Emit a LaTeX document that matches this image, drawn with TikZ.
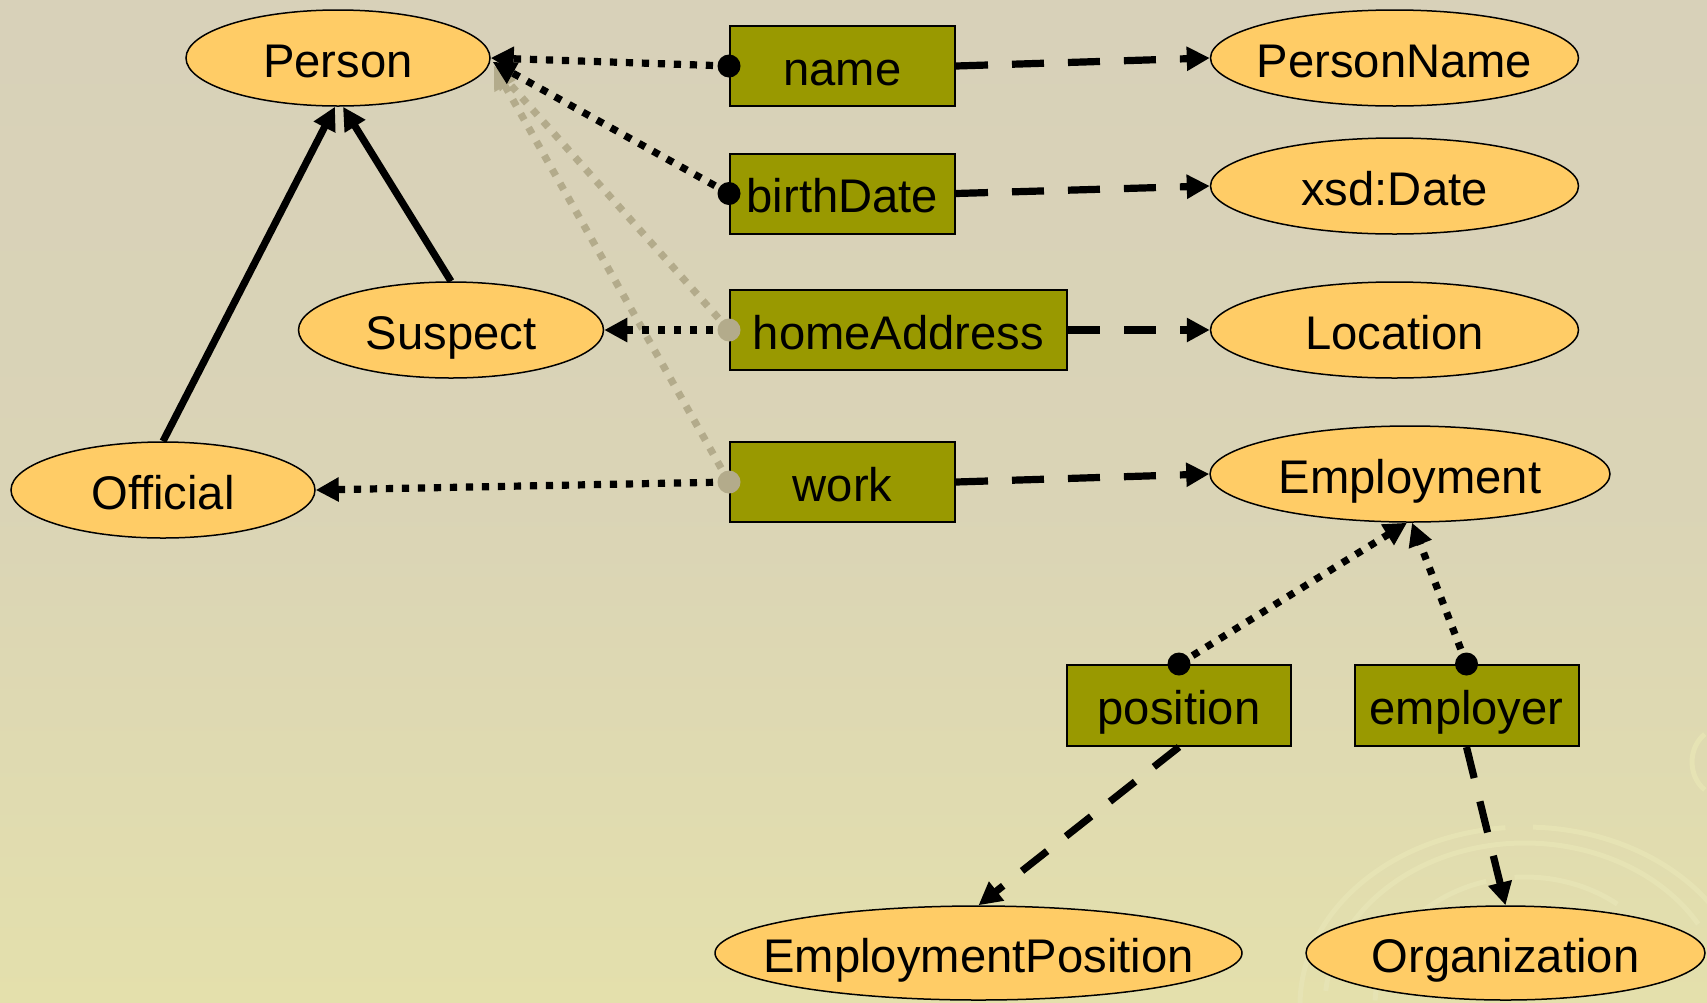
\documentclass[tikz,border=0pt]{standalone}
\usepackage{fontspec}
\setmainfont{Liberation Sans}
\usetikzlibrary{arrows.meta,calc,shapes.geometric}
\definecolor{bgtop}{HTML}{D8D1B9}
\definecolor{bgmid}{HTML}{DAD4B6}
\definecolor{bgbot}{HTML}{E4E0AC}
\definecolor{ellfill}{HTML}{FFCC66}
\definecolor{boxfill}{HTML}{999900}
\definecolor{ghost}{HTML}{B3AB8B}
\definecolor{swirl}{HTML}{E6E3B4}
\newcommand\zw[1]{\makebox[0pt]{#1}}
\begin{document}
\begin{tikzpicture}[x=0.5pt,y=-0.5pt,
  lbl/.style={font=\fontsize{23.6}{28}\selectfont, text height=19pt, text depth=0pt, inner sep=0pt},
  cls/.style={lbl, ellipse, draw=black, line width=0.75pt, fill=ellfill},
  prop/.style={lbl, rectangle, draw=black, line width=1pt, fill=boxfill, minimum height=40pt},
  tip/.style={-{Triangle[length=11.5pt,width=11.5pt]}},
  dotline/.style={tip, line width=3.6pt, dash pattern=on 3.6pt off 4.4pt},
  dashline/.style={tip, line width=3.6pt, dash pattern=on 16pt off 12pt},
  solidline/.style={tip, line width=3.6pt},
  sw/.style={draw=swirl, line width=2.5pt}
]
% background
\shade[top color=bgtop, bottom color=bgbot, middle color=bgmid] (0,0) rectangle (1707,1002);
\useasboundingbox (0,0) rectangle (1707,1002);
% faint swirls (y axis points down, so upper arcs use angles 180..360)
\coordinate (swc) at (1525,1005);
\draw[sw] ($(swc)+(180:225 and 178)$) arc[start angle=180, end angle=265, x radius=225, y radius=178];
\draw[sw] ($(swc)+(272:225 and 178)$) arc[start angle=272, end angle=360, x radius=225, y radius=178];
\draw[sw] ($(swc)+(185:200 and 162)$) arc[start angle=185, end angle=330, x radius=200, y radius=162];
\draw[sw] ($(swc)+(182:150 and 128)$) arc[start angle=182, end angle=255, x radius=150, y radius=128];
\draw[sw] ($(swc)+(266:150 and 128)$) arc[start angle=266, end angle=308, x radius=150, y radius=128];
\draw[sw] ($(swc)+(318:150 and 128)$) arc[start angle=318, end angle=345, x radius=150, y radius=128];
\coordinate (swr) at (1722,762);
\draw[sw] ($(swr)+(125:30 and 34)$) arc[start angle=125, end angle=235, x radius=30, y radius=34];

% class ellipses
\node[cls, minimum width=152pt, minimum height=48pt] (P)  at (338,58)    {\zw{Person}};
\node[cls, minimum width=152.5pt, minimum height=48pt] (S) at (451,330)  {\zw{Suspect}};
\node[cls, minimum width=152pt, minimum height=48pt] (O)  at (163,490)   {\zw{Official}};
\node[cls, minimum width=184pt, minimum height=48pt] (PN) at (1394.5,58) {\zw{PersonName}};
\node[cls, minimum width=184pt, minimum height=48pt] (XD) at (1394.5,186) {\zw{xsd:Date}};
\node[cls, minimum width=184pt, minimum height=48pt] (L)  at (1394.5,330) {\zw{Location}};
\node[cls, minimum width=200pt, minimum height=48pt] (E)  at (1410,474)  {\zw{Employment}};
\node[cls, minimum width=263.5pt, minimum height=47pt] (EP) at (978.5,953) {\zw{EmploymentPosition}};
\node[cls, minimum width=199.5pt, minimum height=47pt] (OR) at (1505.5,953) {\zw{Organization}};

% property boxes
\node[prop, minimum width=112.5pt] (bn) at (842.5,66)    {name};
\node[prop, minimum width=112.5pt] (bb) at (842.5,193.5) {birthDate};
\node[prop, minimum width=168.5pt] (bh) at (898.5,330)   {homeAddress};
\node[prop, minimum width=112.5pt] (bw) at (842.5,482)   {work};
\node[prop, minimum width=112pt, minimum height=40.5pt] (bp) at (1179,705.5)  {position};
\node[prop, minimum width=112pt, minimum height=40.5pt] (be) at (1466.5,705.5) {employer};

% inherited (ghost) domain links
\draw[dotline, draw=ghost, color=ghost] (bh.west) -- ($(P.east)+(3,8)$);
\draw[dotline, draw=ghost, color=ghost] (bw.west) -- ($(P.east)+(3,8)$);

% domain links
\draw[dotline] (bn.west) -- (P.east);
\draw[dotline] (bb.west) -- ($(P.east)+(2,4)$);
\draw[dotline] (bh.west) -- (S.east);
\draw[dotline] (bw.west) -- (O.east);
\draw[dotline] (bp.north) -- ($(E.south)+(-3,0)$);
\draw[dotline] (be.north) -- ($(E.south)+(2,0)$);

% range links
\draw[dashline] (bn.east) -- (PN.west);
\draw[dashline] (bb.east) -- (XD.west);
\draw[dashline] (bh.east) -- (L.west);
\draw[dashline] (bw.east) -- (E.west);
\draw[dashline] (bp.south) -- (EP.north);
\draw[dashline] (be.south) -- (OR.north);

% subclass links
\draw[solidline] (O.north) -- ($(P.south)+(-3,0)$);
\draw[solidline] (S.north) -- ($(P.south)+(5,0)$);

% domain dots
\fill[black] (bn.west) circle[radius=11.5];
\fill[black] (bb.west) circle[radius=11.5];
\fill[ghost] (bh.west) circle[radius=11.5];
\fill[ghost] (bw.west) circle[radius=11.5];
\fill[black] (bp.north) circle[radius=11.5];
\fill[black] (be.north) circle[radius=11.5];
\end{tikzpicture}
\end{document}
